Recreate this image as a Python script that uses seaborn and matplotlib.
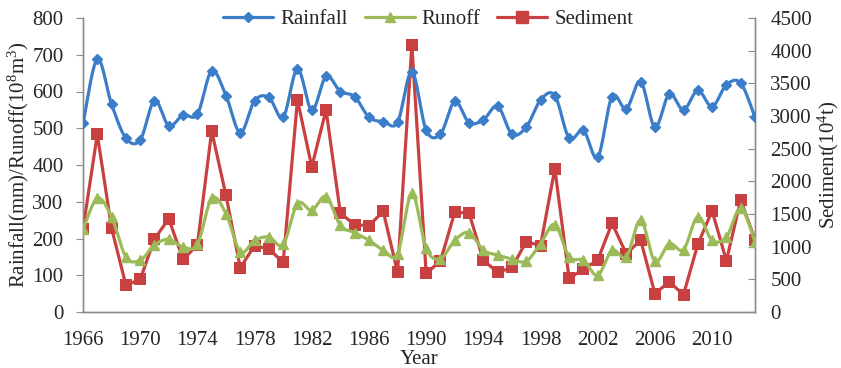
import numpy as np
import pandas as pd
import matplotlib
matplotlib.use("Agg")
import matplotlib.pyplot as plt
from matplotlib.lines import Line2D
import seaborn as sns

years = list(range(1966, 2014))
rainfall = [513, 688, 565, 473, 468, 575, 507, 536, 538, 656,
            589, 488, 575, 584, 530, 662, 549, 641, 600, 586,
            530, 518, 516, 654, 495, 484, 573, 515, 523, 560,
            484, 503, 577, 589, 473, 494, 421, 586, 553, 627,
            503, 593, 550, 603, 559, 618, 623, 530]
runoff = [225, 309, 259, 150, 141, 182, 198, 177, 184, 309,
          268, 164, 195, 204, 184, 295, 277, 314, 236, 216,
          195, 168, 159, 323, 173, 145, 195, 216, 168, 155,
          144, 138, 186, 238, 150, 141, 100, 168, 150, 250,
          138, 186, 170, 259, 195, 204, 282, 191]
sediment = [1272, 2719, 1282, 411, 498, 1119, 1426, 805, 1026, 2770,
            1785, 677, 1016, 965, 759, 3247, 2221, 3093, 1513, 1334,
            1323, 1539, 605, 4094, 590, 780, 1528, 1513, 795, 605,
            682, 1077, 1016, 2196, 513, 657, 795, 1359, 888, 1103,
            282, 462, 267, 1036, 1549, 785, 1719, 1103]
xticks = list(range(1966, 2014, 4))
left_ticks = list(range(0, 801, 100))
right_ticks = list(range(0, 4501, 500))

C_RAIN = "#3B7DC9"
C_RUN = "#9BBB59"
C_SED = "#C8403F"
AXC = "#8C8C8C"
FS = 15

sns.set_style("white")
plt.rcParams["font.family"] = ["Liberation Serif", "DejaVu Serif"]
plt.rcParams["mathtext.fontset"] = "custom"
plt.rcParams["mathtext.rm"] = "Liberation Serif"
plt.rcParams["mathtext.it"] = "Liberation Serif:italic"


def smooth(x, y, n=16):
    """Excel-style smoothed line (cubic Bezier, Catmull-Rom control points)."""
    x = np.asarray(x, float)
    y = np.asarray(y, float)
    P = np.column_stack([x, y])
    out = []
    for i in range(len(P) - 1):
        p0 = P[i - 1] if i > 0 else P[i]
        p1, p2 = P[i], P[i + 1]
        p3 = P[i + 2] if i + 2 < len(P) else P[i + 1]
        c1 = p1 + (p2 - p0) / 6.0
        c2 = p2 - (p3 - p1) / 6.0
        t = np.linspace(0, 1, n, endpoint=False)[:, None]
        seg = ((1 - t) ** 3) * p1 + 3 * ((1 - t) ** 2) * t * c1 + 3 * (1 - t) * t ** 2 * c2 + t ** 3 * p2
        out.append(seg)
    out.append(P[-1:])
    S = np.vstack(out)
    return pd.DataFrame({"x": S[:, 0], "y": S[:, 1]})


df = pd.DataFrame({"year": years, "rainfall": rainfall, "runoff": runoff, "sediment": sediment})

fig = plt.figure(figsize=(8.41, 3.68), dpi=100)
ax = fig.add_axes([83 / 841, 1 - 312 / 368, 672 / 841, 294 / 368])
ax2 = ax.twinx()

# Rainfall (smoothed)
sr = smooth(df["year"], df["rainfall"])
sns.lineplot(data=sr, x="x", y="y", ax=ax, color=C_RAIN, lw=2.3, sort=False, estimator=None, zorder=3)
ax.plot(df["year"], df["rainfall"], ls="none", marker="D", ms=5.5, color=C_RAIN, zorder=4)

# Runoff (smoothed)
su = smooth(df["year"], df["runoff"])
sns.lineplot(data=su, x="x", y="y", ax=ax, color=C_RUN, lw=2.3, sort=False, estimator=None, zorder=3)
ax.plot(df["year"], df["runoff"], ls="none", marker="^", ms=7, color=C_RUN, zorder=4)

# Sediment (straight)
sns.lineplot(data=df, x="year", y="sediment", ax=ax2, color=C_SED, lw=2.3,
             marker="s", markersize=8, markeredgewidth=0, zorder=5)

ax.set_xlim(1966, 2013)
ax.set_ylim(0, 800)
ax2.set_ylim(0, 4500)
ax.set_xticks(xticks)
ax.set_xticklabels([str(v) for v in xticks])
ax.set_yticks(left_ticks)
ax2.set_yticks(right_ticks)

ax.set_zorder(ax2.get_zorder() + 1)
ax.patch.set_visible(False)

for a in (ax, ax2):
    a.spines["top"].set_visible(False)
    for s in ("left", "right", "bottom"):
        a.spines[s].set_color(AXC)
        a.spines[s].set_linewidth(1.0)
    a.grid(False)

ax.tick_params(axis="y", direction="out", length=5, color=AXC, labelsize=FS, pad=9)
ax.tick_params(axis="x", direction="in", length=5, color=AXC, labelsize=FS, pad=14)
ax2.tick_params(axis="y", direction="in", length=5, color=AXC, labelsize=FS, pad=11)

ax.set_xlabel("Year", fontsize=FS, labelpad=0)
ax.set_ylabel("Rainfall(mm)/Runoff(10$^{8}$m$^{3}$)", fontsize=FS, labelpad=1)
ax2.set_ylabel("Sediment(10$^{4}$t)", fontsize=FS, labelpad=3)

handles = [
    Line2D([], [], color=C_RAIN, lw=2.3, marker="D", ms=5.5),
    Line2D([], [], color=C_RUN, lw=2.3, marker="^", ms=7),
    Line2D([], [], color=C_SED, lw=2.3, marker="s", ms=8),
]
ax.legend(handles, ["Rainfall", "Runoff", "Sediment"], loc="center",
          bbox_to_anchor=(0.514, 0.995), ncol=3, frameon=False, fontsize=FS,
          handlelength=2.4, handletextpad=0.35, columnspacing=0.8)

fig.savefig("out.png", dpi=100)
